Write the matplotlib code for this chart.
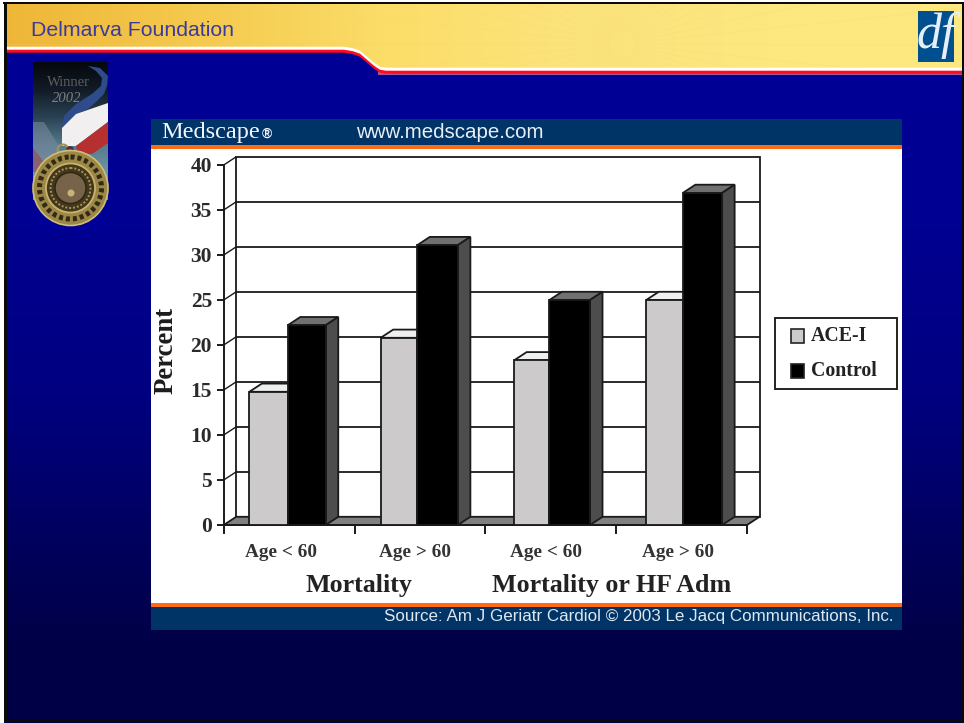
import numpy as np
import matplotlib
matplotlib.use("Agg")
import matplotlib.pyplot as plt
from matplotlib.patches import Polygon, Rectangle, Circle, PathPatch
from matplotlib.path import Path
from matplotlib.colors import LinearSegmentedColormap

# Chart content
group_labels = ["Age < 60", "Age > 60", "Age < 60", "Age > 60"]
section_labels = ["Mortality", "Mortality or HF Adm"]
ace_values = [14.8, 20.8, 18.3, 25.0]
control_values = [22.2, 31.1, 25.0, 36.9]
y_ticks = [0, 5, 10, 15, 20, 25, 30, 35, 40]
legend_labels = ["ACE-I", "Control"]

W, H = 964, 723
SERIF = "Liberation Serif"
SANS = "Liberation Sans"
NAVY = "#003366"
ORANGE = "#ff6a13"

fig = plt.figure(figsize=(W / 100, H / 100), dpi=100)

# Slide layer, addressed in pixels from the top left
bg = fig.add_axes([0, 0, 1, 1])
bg.set_xlim(0, W)
bg.set_ylim(H, 0)
bg.axis("off")

blue = LinearSegmentedColormap.from_list(
    "slide", [(0.0, "#000096"), (0.30, "#000092"), (0.55, "#000080"),
              (0.78, "#000058"), (0.90, "#000046"), (1.0, "#000046")])
bg.imshow(np.linspace(0, 1, 256)[:, None], cmap=blue, aspect="auto",
          extent=(0, W, H, 0), zorder=0)


def banner_path(shift):
    """Banner outline with its step down, pushed down by `shift` pixels."""
    left, right = 46.7 + shift, 67.7 + shift
    verts = [(0, 0), (W, 0), (W, right), (386, right), (380, right - 1),
             (374, right - 5), (367, right - 11), (360, right - 17),
             (353, left + 1.5), (344, left), (0, left), (0, 0)]
    return Path(verts, closed=True)


# Purple shadow runs only under the right half of the banner
bg.add_patch(Rectangle((378, 70), W - 378, 5, fc="#a0589a", ec="none", zorder=1))
bg.add_patch(PathPatch(banner_path(6), fc="#ff0a1e", ec="none", zorder=2))
bg.add_patch(PathPatch(banner_path(3), fc="white", ec="none", zorder=3))

sun = LinearSegmentedColormap.from_list(
    "banner", ["#eeb637", "#f4c94d", "#fbdd68", "#fbe37c", "#fde77f", "#fde77f"])
grad = bg.imshow(np.linspace(0, 1, 256)[None, :], cmap=sun, aspect="auto",
                 extent=(0, W, 70, 0), zorder=4)
clip = PathPatch(banner_path(0), transform=bg.transData, fc="none", ec="none")
bg.add_patch(clip)
grad.set_clip_path(clip)

# Faint rays fanning out of the banner's bright spot
for angle in np.arange(0, 360, 6.0):
    a = np.radians(angle)
    ray, = bg.plot([622 + 14 * np.cos(a), 622 + 700 * np.cos(a)],
                   [44 + 14 * np.sin(a), 44 + 700 * np.sin(a)],
                   color="#f6d873", lw=1.0, alpha=0.14, zorder=5)
    ray.set_clip_path(clip)

bg.text(31, 35.5, "Delmarva Foundation", family=SANS, fontsize=15.3,
        color="#3a3a9e", va="baseline", ha="left", zorder=6)

# Logo tile
bg.add_patch(Rectangle((918, 11), 36, 51, fc="#00508f", ec="none", zorder=6))
bg.text(935.5, 36, "df", family=SERIF, style="italic", fontsize=36, color="#e6eff7",
        ha="center", va="center", zorder=7)

# Medal panel: dark top fading to grey teal, ribbon bands, then the gold disc
panel = LinearSegmentedColormap.from_list(
    "panel", ["#06080d", "#121c28", "#2a4254", "#557a8c", "#6f95a3", "#5f8797"])
bg.imshow(np.linspace(0, 1, 64)[:, None], cmap=panel, aspect="auto",
          extent=(33, 108, 200, 62), zorder=6)
loop = Path([(88, 66), (100, 68), (108, 76), (107, 86), (104, 94), (98, 100),
             (88, 109), (76, 114), (62, 128), (64, 116), (76, 104), (92, 94),
             (101, 86), (102, 78), (96, 71), (88, 66)], closed=True)
bg.add_patch(PathPatch(loop, fc="#2f4c8a", ec="none", zorder=7))
bg.add_patch(Polygon([(62, 128), (76, 114), (108, 103), (108, 122), (76, 146), (62, 146)],
                     fc="#f1eff0", ec="none", zorder=8))
bg.add_patch(Polygon([(76, 146), (108, 122), (108, 143), (92, 154), (78, 154)],
                     fc="#b5302f", ec="none", zorder=8))
bg.add_patch(Polygon([(33, 122), (44, 122), (60, 148), (58, 168), (33, 168)],
                     fc="#7d8a9e", ec="none", alpha=0.55, zorder=7))
bg.add_patch(Polygon([(33, 148), (52, 172), (33, 172)],
                     fc="#8f5560", ec="none", alpha=0.75, zorder=8))
bg.text(68, 83, "Winner", family=SERIF, fontsize=10.5, color="#5d5d5d",
        ha="center", va="center", zorder=9)
bg.text(67, 99, "2002", family=SERIF, style="italic", fontsize=10.5, color="#7f7f7f",
        ha="center", va="center", zorder=9)
bg.add_patch(Circle((63, 150), 5.5, fc="none", ec="#a8914e", lw=1.5, zorder=9))
bg.add_patch(Circle((70, 150), 3, fc="#a02020", ec="#20304f", lw=1, zorder=9))
bg.add_patch(Rectangle((33, 200), 75, 30, fc="#000096", ec="none", zorder=8))
bg.add_patch(Circle((70.5, 188), 37.5, fc="#9c8846", ec="#cdbd78", lw=1.2, zorder=10))
bg.add_patch(Circle((70.5, 188), 31, fc="none", ec="#322a14", lw=3.6, ls=(0, (0.8, 0.6)), zorder=11))
bg.add_patch(Circle((70.5, 188), 24.5, fc="#43371c", ec="#c8b46e", lw=1.3, zorder=11))
bg.add_patch(Circle((70.5, 188), 20, fc="none", ec="#a8965a", lw=1.4, ls=(0, (1, 1)), zorder=12))
bg.add_patch(Circle((70.5, 188), 15.5, fc="#76634a", ec="#2d2410", lw=1, zorder=12))
bg.add_patch(Circle((71, 193), 3.5, fc="#c6b27a", ec="none", zorder=13))

# Slide border: white sliver outside a black rule on the top and left
for rect, colour in [((0, 0, W, 2), "white"), ((0, 0, 4, H), "white"),
                     ((3, 2, W - 3, 2), "#0a0a06"), ((4, 2, 2.5, H - 3.5), "#0a0a06"),
                     ((961.5, 2, 2.5, H - 2), "#0a0a06"), ((4, 719, W - 4, 2.5), "#0a0a06")]:
    bg.add_patch(Rectangle(rect[:2], rect[2], rect[3], fc=colour, ec="none", zorder=20))

# White card with header and footer bars
bg.add_patch(Rectangle((151, 119), 751, 511, fc="white", ec="none", zorder=6))
bg.add_patch(Rectangle((151, 119), 751, 26, fc=NAVY, ec="none", zorder=7))
bg.add_patch(Rectangle((151, 145), 751, 4, fc=ORANGE, ec="none", zorder=7))
bg.add_patch(Rectangle((151, 604), 751, 26, fc=NAVY, ec="none", zorder=7))
bg.add_patch(Rectangle((151, 603), 751, 4, fc=ORANGE, ec="none", zorder=7))
bg.text(161, 138, "Medscape", family=SERIF, fontsize=17.5, color="#f2f6fa",
        va="baseline", ha="left", zorder=8)
bg.text(262, 138, "®", family=SANS, weight="bold", fontsize=10, color="#f2f6fa",
        va="baseline", ha="left", zorder=8)
bg.text(356, 138, "www.medscape.com", family=SANS, fontsize=14.8, color="#e8eef4",
        va="baseline", ha="left", zorder=8)
bg.text(384, 621.5, "Source: Am J Geriatr Cardiol © 2003 Le Jacq Communications, Inc.",
        family=SANS, fontsize=12.23, color="#dfe7ee", va="baseline", ha="left", zorder=8)

# Pseudo-3D column chart on its own data axes
LEFT, RIGHT, TOP, BOTTOM = 223.7, 747.0, 165.0, 525.0
ax = fig.add_axes([LEFT / W, 1 - BOTTOM / H, (RIGHT - LEFT) / W, (BOTTOM - TOP) / H])
ax.set_xlim(0, 4)
ax.set_ylim(0, 40)
ax.patch.set_alpha(0)
ax.axis("off")

DX = 12.5 / (RIGHT - LEFT) * 4     # depth offset in category units
DY = 8.2 / (BOTTOM - TOP) * 40     # depth offset in percent
LINE = "#1a1a1a"
LW = 1.3


def poly(points, fc, z=3, lw=LW):
    ax.add_patch(Polygon(points, closed=True, fc=fc, ec=LINE, lw=lw,
                         zorder=z, clip_on=False, joinstyle="miter"))


def line(xs, ys, z=2, lw=LW, color=LINE):
    ax.plot(xs, ys, color=color, lw=lw, zorder=z, clip_on=False, solid_capstyle="butt")


# Back wall and gridlines
poly([(DX, DY), (4 + DX, DY), (4 + DX, 40 + DY), (DX, 40 + DY)], "white", z=1)
for t in y_ticks[1:-1]:
    line([DX, 4 + DX], [t + DY, t + DY])
    line([0, DX], [t, t + DY], lw=1.0)
line([0, DX], [40, 40 + DY], lw=1.0)

# Floor and left wall edge
poly([(0, 0), (4, 0), (4 + DX, DY), (DX, DY)], "#808080", z=1.5)
line([0, 0], [0, 40], lw=1.4)
line([0, 4], [0, 0], lw=1.4)

# Tick marks on both axes
for t in y_ticks:
    line([-0.054, 0], [t, t], lw=1.4)
    ax.text(-0.09, t - 0.25, str(t), family=SERIF, weight="bold", fontsize=15.5,
            color="#2a2a2a", ha="right", va="center")
for i in range(5):
    line([i, i], [0, -1.0], lw=1.4)

ACE_SPAN = [(0.196, 0.49), (0.2, 0.48), (0.22, 0.49), (0.23, 0.51)]
CTRL_RIGHT = [0.78, 0.79, 0.80, 0.81]
LABEL_SHIFT = [0.435, 0.465, 0.465, 0.47]


def column(x0, x1, v, front, top_fc, side_fc, z):
    poly([(x0, v), (x0 + DX, v + DY), (x1 + DX, v + DY), (x1, v)], top_fc, z=z)
    poly([(x1, 0), (x1 + DX, DY), (x1 + DX, v + DY), (x1, v)], side_fc, z=z)
    poly([(x0, 0), (x1, 0), (x1, v), (x0, v)], front, z=z + 0.1)


for i in range(4):
    a0, a1 = ACE_SPAN[i]
    column(i + a0, i + a1, ace_values[i], "#cccaca", "#eef0ee", "#cccaca", 3 + i)
    column(i + a1, i + CTRL_RIGHT[i], control_values[i], "black", "#707070", "#4d4d4d", 3.3 + i)
    ax.text(i + LABEL_SHIFT[i], -3.02, group_labels[i], family=SERIF, weight="bold", fontsize=13.9,
            color="#333333", ha="center", va="center")

for centre, label in zip([1.034, 2.968], section_labels):
    ax.text(centre, -7.4, label, family=SERIF, weight="bold", fontsize=18.7,
            color="#222222", ha="center", va="baseline")

ax.text(-0.441, 19.4, "Percent", family=SERIF, weight="bold", fontsize=19.3, color="#1c1c1c",
        rotation=90, ha="center", va="center")

# Legend
bg.add_patch(Rectangle((774.5, 318), 122, 70.5, fc="white", ec="#222222", lw=1.4, zorder=7))
for y, colour, label in zip([336, 370.5], ["#cccaca", "black"], legend_labels):
    bg.add_patch(Rectangle((791, y - 7), 13, 14, fc=colour, ec="#222222", lw=1.2, zorder=8))
    bg.text(811, y, label, family=SERIF, weight="bold", fontsize=14.3, color="#222222",
            ha="left", va="center", zorder=8)

fig.savefig("out.png", dpi=100)
